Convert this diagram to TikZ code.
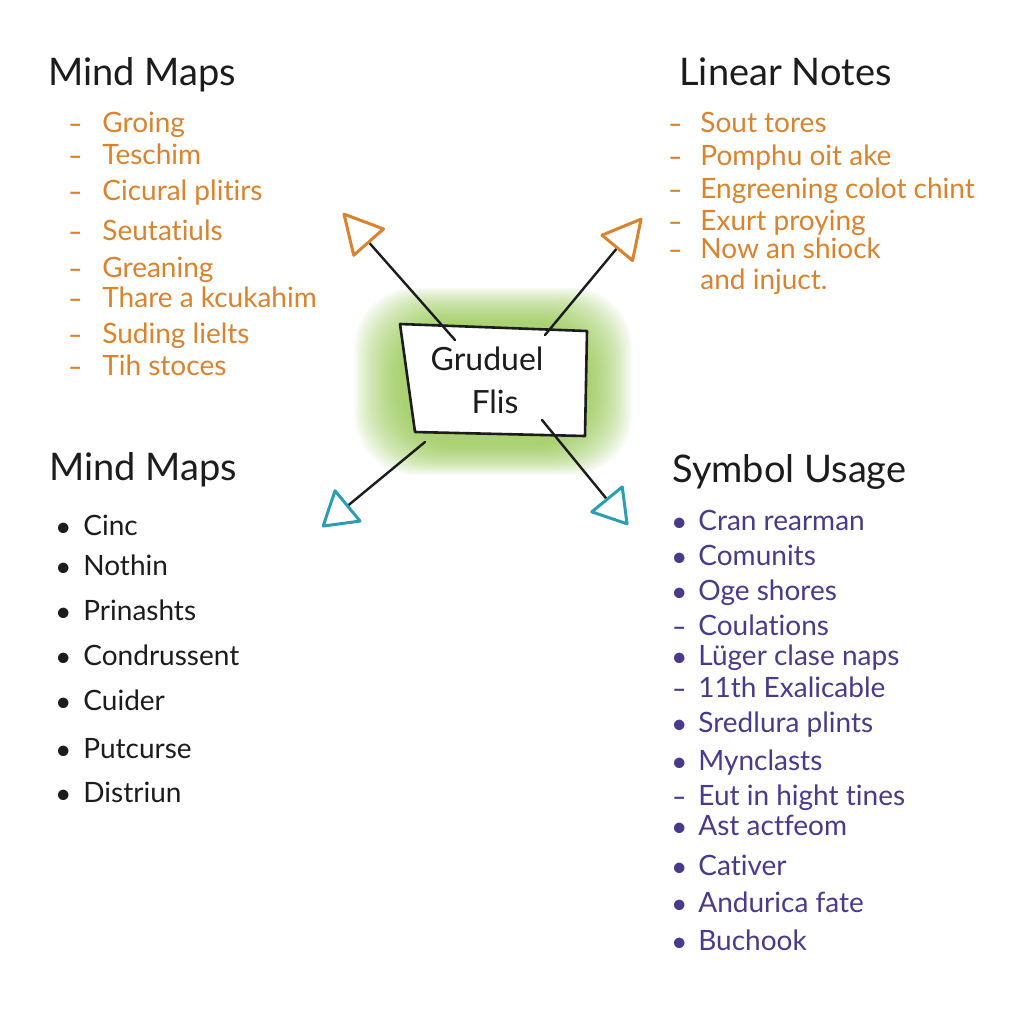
\documentclass[tikz,border=0pt]{standalone}
\usepackage{fontspec}
\setmainfont{Lato}[Ligatures={NoCommon}]
\usetikzlibrary{arrows.meta,positioning}
\definecolor{inkblack}{HTML}{1C1C1C}
\definecolor{inkorange}{HTML}{D9832E}
\definecolor{inkpurple}{HTML}{4A3A8C}
\definecolor{inkteal}{HTML}{2E9CB2}
\definecolor{glowgreen}{HTML}{8DC63F}
\tikzset{
  heading/.style={anchor=base west,inner sep=0pt,text=inkblack,font=\fontsize{19}{22}\selectfont},
  listitem/.style={anchor=base west,inner sep=0pt,font=\fontsize{14}{16}\selectfont},
  listmark/.style={anchor=base west,inner sep=0pt,font=\bfseries\fontsize{12}{14}\selectfont},
  hubtext/.style={inner sep=0pt,text=inkblack,font=\fontsize{16}{18}\selectfont},
  hubedge/.style={draw=inkblack,line width=1.3pt,line join=round,fill=white},
  outtip/.style={draw=inkblack,line width=1.2pt,line cap=round,
    -{Triangle[open,round,length=21pt,width=22pt,line width=1.5pt,color=inkorange]}},
  intip/.style={draw=inkblack,line width=1.2pt,line cap=round,
    -{Triangle[open,round,length=18pt,width=22pt,line width=1.5pt,color=inkteal]}}
}
\begin{document}
\begin{tikzpicture}[x=0.5pt,y=-0.5pt]
\useasboundingbox (0,0) rectangle (1024,1024);
\fill[white] (0,0) rectangle (1024,1024);
%\draw[help lines,step=50] (0,0) grid (1024,1024); %help grid

% top left list
\node[heading] (tlhead) at (48,85) {Mind Maps};
\foreach \y/\t [count=\i] in {132/Groing,164/Teschim,200/Cicural plitirs,240/Seutatiuls,
    277/Greaning,307/Thare a kcukahim,343/Suding lielts,375/Tih stoces}{
  \node[listmark,text=inkorange] (tlm\i) at (68,\y) {–};
  \node[listitem,text=inkorange] (tl\i) at (102,\y) {\t};
}

% top right list
\node[heading] (trhead) at (679,85) {Linear Notes};
\foreach \y/\t [count=\i] in {132/Sout tores,165/Pomphu oit ake,198/Engreening colot chint,
    230/Exurt proying,258/Now an shiock}{
  \node[listmark,text=inkorange] (trm\i) at (668,\y) {–};
  \node[listitem,text=inkorange] (tr\i) at (700,\y) {\t};
}
\node[listitem,text=inkorange] (tr6) at (700,289) {and injuct.};

% bottom left list
\node[heading] (blhead) at (49,480) {Mind Maps};
\foreach \y/\t [count=\i] in {535/Cinc,575/Nothin,620/Prinashts,665/Condrussent,
    710/Cuider,758/Putcurse,802/Distriun}{
  \node[listmark,text=inkblack] (blm\i) at (56,\y) {•};
  \node[listitem,text=inkblack] (bl\i) at (83,\y) {\t};
}

% bottom right list
\node[heading] (brhead) at (672,482) {Symbol Usage};
\foreach \y/\m/\t [count=\i] in {530/•/Cran rearman,565/•/Comunits,600/•/Oge shores,
    635/–/Coulations,665/•/Lüger clase naps,697/–/11th Exalicable,732/•/Sredlura plints,
    770/•/Mynclasts,805/–/Eut in hight tines,835/•/Ast actfeom,875/•/Cativer,
    912/•/Andurica fate,950/•/Buchook}{
  \node[listmark,text=inkpurple] (brm\i) at (672,\y) {\m};
  \node[listitem,text=inkpurple] (br\i) at (698,\y) {\t};
}

% centre
\foreach \k in {0,...,19}
  \fill[glowgreen,opacity=0.06,rounded corners=30pt]
    ({400-2.4*\k},{322-1.8*\k}) rectangle ({590+2.2*\k},{446+1.5*\k});
\draw[hubedge] (400,324) -- (587,331) -- (585,436) -- (415,432) -- cycle;
\node[hubtext] (hubtop) at (487,359) {Gruduel};
\node[hubtext] (hubbot) at (495,402) {Flis};

\coordinate (hubnw) at (455,340);
\coordinate (hubne) at (545,335);
\coordinate (hubsw) at (425,442);
\coordinate (hubse) at (542,420);
\coordinate (endnw) at (343,213);
\coordinate (endne) at (642,218);
\coordinate (endsw) at (322,527);
\coordinate (endse) at (628,525);
\draw[outtip] (hubnw) -- (endnw);
\draw[outtip] (hubne) -- (endne);
\draw[intip] (hubsw) -- (endsw);
\draw[intip] (hubse) -- (endse);
\end{tikzpicture}
\end{document}
